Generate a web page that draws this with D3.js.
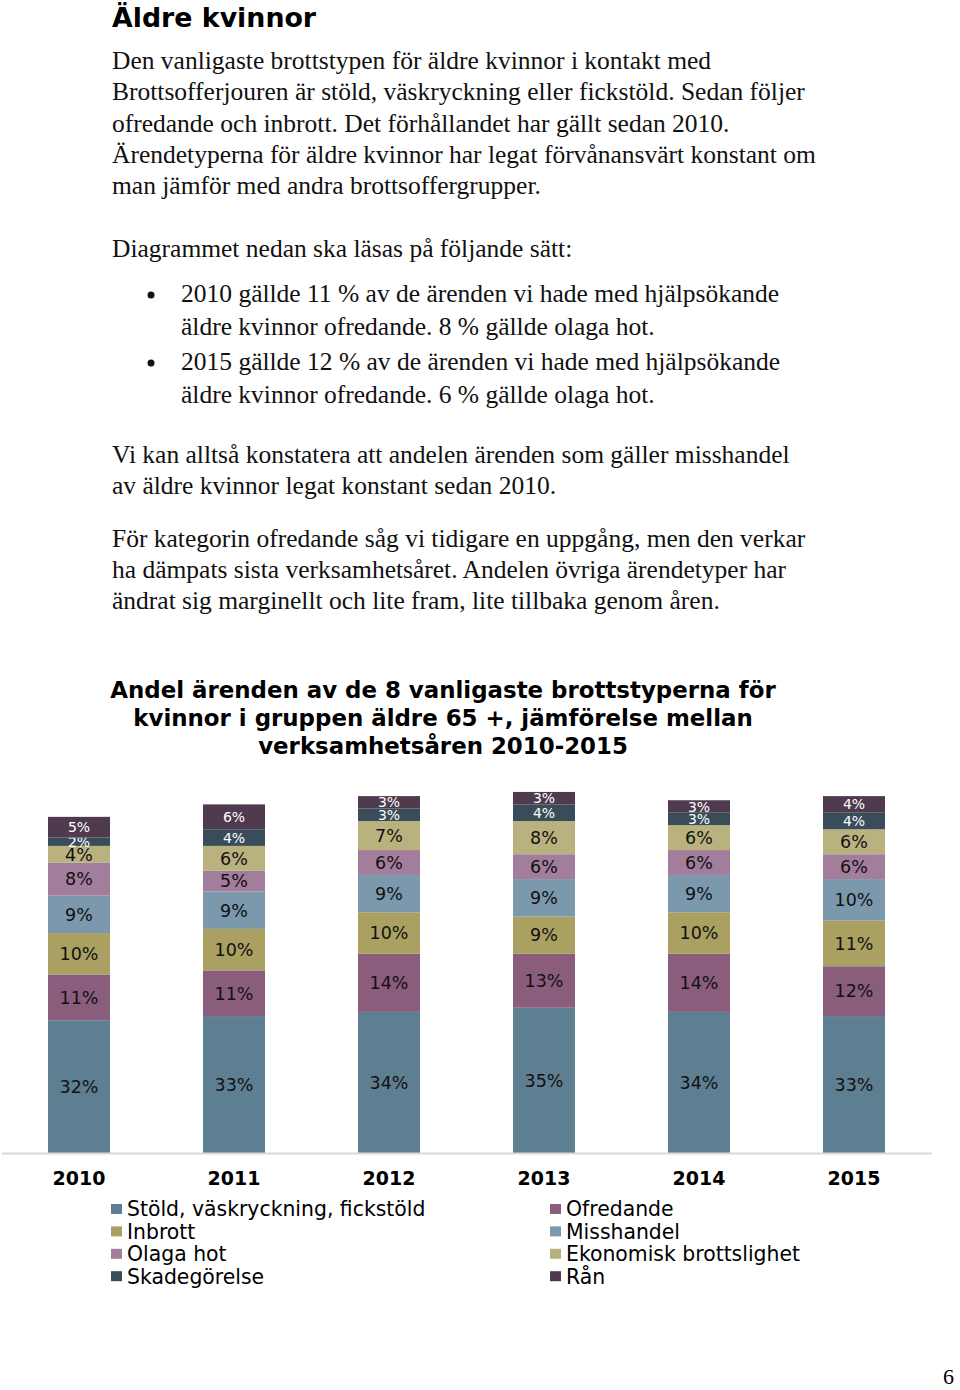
<!DOCTYPE html>
<html>
<head>
<meta charset="utf-8">
<script src="https://cdn.jsdelivr.net/npm/d3@7"></script>
<style>
    body { margin: 0; background: #fff; }
</style>
</head>
<body>
<div id="page"></div>
<script>
// årtal och brottstyper
var years = ["2010", "2011", "2012", "2013", "2014", "2015"];
var categories = ["Stöld, väskryckning, fickstöld", "Ofredande", "Inbrott", "Misshandel",
    "Olaga hot", "Ekonomisk brottslighet", "Skadegörelse", "Rån"];

// andel ärenden i procent, per år
var stold = [32, 33, 34, 35, 34, 33];
var ofredande = [11, 11, 14, 13, 14, 12];
var inbrott = [10, 10, 10, 9, 10, 11];
var misshandel = [9, 9, 9, 9, 9, 10];
var olagaHot = [8, 5, 6, 6, 6, 6];
var ekonomisk = [4, 6, 7, 8, 6, 6];
var skadegorelse = [2, 4, 3, 4, 3, 4];
var ran = [5, 6, 3, 3, 3, 4];

var series = [stold, ofredande, inbrott, misshandel, olagaHot, ekonomisk, skadegorelse, ran];
var colors = ["#5e7f92", "#8b5d7d", "#a9a061", "#7b98ad", "#a27d9c", "#bab27e", "#384c5a", "#4f3a4e"];
var darkSegment = [false, false, false, false, false, false, true, true];

var intro = [
    "Den vanligaste brottstypen för äldre kvinnor i kontakt med",
    "Brottsofferjouren är stöld, väskryckning eller fickstöld. Sedan följer",
    "ofredande och inbrott. Det förhållandet har gällt sedan 2010.",
    "Ärendetyperna för äldre kvinnor har legat förvånansvärt konstant om",
    "man jämför med andra brottsoffergrupper."
];
var bullets = [
    ["2010 gällde 11 % av de ärenden vi hade med hjälpsökande", "äldre kvinnor ofredande. 8 % gällde olaga hot."],
    ["2015 gällde 12 % av de ärenden vi hade med hjälpsökande", "äldre kvinnor ofredande. 6 % gällde olaga hot."]
];
var para2 = [
    "Vi kan alltså konstatera att andelen ärenden som gäller misshandel",
    "av äldre kvinnor legat konstant sedan 2010."
];
var para3 = [
    "För kategorin ofredande såg vi tidigare en uppgång, men den verkar",
    "ha dämpats sista verksamhetsåret. Andelen övriga ärendetyper har",
    "ändrat sig marginellt och lite fram, lite tillbaka genom åren."
];
var titleLines = [
    "Andel ärenden av de 8 vanligaste brottstyperna för",
    "kvinnor i gruppen äldre 65 +, jämförelse mellan",
    "verksamhetsåren 2010-2015"
];

var width = 960;
var height = 1390;
var serif = "'Liberation Serif', serif";
var sans = "'DejaVu Sans', Verdana, sans-serif";

var svg = d3.select("#page")
    .append("svg")
    .attr("width", width)
    .attr("height", height);

// rubrik
svg.append("text")
    .attr("x", 112)
    .attr("y", 27)
    .text("Äldre kvinnor")
    .attr("font-family", sans)
    .attr("font-weight", "bold")
    .attr("font-size", "26.8px")
    .attr("fill", "#000");

function textBlock(lines, x, y0, step) {
    svg.append("g").selectAll("text")
        .data(lines)
        .join("text")
        .attr("x", x)
        .attr("y", function (d, i) { return y0 + i * step; })
        .attr("font-family", serif)
        .attr("font-size", "25.5px")
        .attr("fill", "#111")
        .text(function (d) { return d; });
}

textBlock(intro, 112, 69, 31.3);
textBlock(["Diagrammet nedan ska läsas på följande sätt:"], 112, 257, 0);
bullets.forEach(function (b, j) {
    var y = j === 0 ? 302 : 370;
    svg.append("circle")
        .attr("cx", 151)
        .attr("cy", y - 7)
        .attr("r", 3.5)
        .attr("fill", "#111");
    textBlock(b, 181, y, 33);
});
textBlock(para2, 112, 463, 31);
textBlock(para3, 112, 547, 31);

// diagramrubrik
svg.append("g").selectAll("text")
    .data(titleLines)
    .join("text")
    .attr("x", 443)
    .attr("y", function (d, i) { return 698 + i * 28; })
    .attr("text-anchor", "middle")
    .attr("font-family", sans)
    .attr("font-weight", "bold")
    .attr("font-size", "22.9px")
    .attr("fill", "#000")
    .text(function (d) { return d; });

// staplat diagram
var baseline = 1153;
var rows = years.map(function (y, i) {
    var r = { year: y };
    categories.forEach(function (c, k) { r[c] = series[k][i]; });
    return r;
});
var stacked = d3.stack().keys(categories)(rows);

var x = d3.scaleBand()
    .domain(years)
    .range([1.5, 931.5])
    .paddingInner(0.6)
    .paddingOuter(0.3);

var y = d3.scaleLinear()
    .domain([0, 90])
    .range([baseline, baseline - 90 * 4.15]);

var layer = svg.append("g").selectAll("g")
    .data(stacked)
    .join("g")
    .attr("fill", function (d, i) { return colors[i]; });

layer.selectAll("rect")
    .data(function (d) { return d; })
    .join("rect")
    .attr("x", function (d) { return x(d.data.year); })
    .attr("y", function (d) { return y(d[1]); })
    .attr("width", x.bandwidth())
    .attr("height", function (d) { return y(d[0]) - y(d[1]); });

layer.selectAll("text")
    .data(function (d, i) { return d.map(function (v) { return { v: v, k: i }; }); })
    .join("text")
    .attr("x", function (d) { return x(d.v.data.year) + x.bandwidth() / 2; })
    .attr("y", function (d) { return (y(d.v[0]) + y(d.v[1])) / 2; })
    .attr("dy", "0.36em")
    .attr("text-anchor", "middle")
    .attr("font-family", sans)
    .attr("font-size", function (d) { return darkSegment[d.k] ? "14px" : "17.5px"; })
    .attr("fill", function (d) { return darkSegment[d.k] ? "#fff" : "#111"; })
    .text(function (d) { return (d.v[1] - d.v[0]) + "%"; });

var axis = svg.append("g")
    .attr("transform", "translate(0," + baseline + ")")
    .call(d3.axisBottom(x).tickSize(0).tickPadding(19));
axis.select(".domain")
    .attr("stroke", "#d9d9d9")
    .attr("stroke-width", 2);
axis.selectAll("text")
    .attr("font-family", sans)
    .attr("font-weight", "bold")
    .attr("font-size", "19px")
    .attr("fill", "#000");

// teckenförklaring
var legend = svg.append("g").selectAll("g")
    .data(categories)
    .join("g")
    .attr("transform", function (d, i) {
        var lx = i % 2 === 0 ? 111 : 550;
        var ly = 1209 + Math.floor(i / 2) * 22.4;
        return "translate(" + lx + "," + ly + ")";
    });
legend.append("rect")
    .attr("x", 0)
    .attr("y", -5)
    .attr("width", 11)
    .attr("height", 10)
    .attr("fill", function (d, i) { return colors[i]; });
legend.append("text")
    .attr("x", 16)
    .attr("dy", "0.36em")
    .attr("font-family", sans)
    .attr("font-size", "20.4px")
    .attr("fill", "#000")
    .text(function (d) { return d; });

// sidnummer
svg.append("text")
    .attr("x", 943)
    .attr("y", 1384)
    .text("6")
    .attr("font-family", serif)
    .attr("font-size", "22px")
    .attr("fill", "#000");
</script>
</body>
</html>
